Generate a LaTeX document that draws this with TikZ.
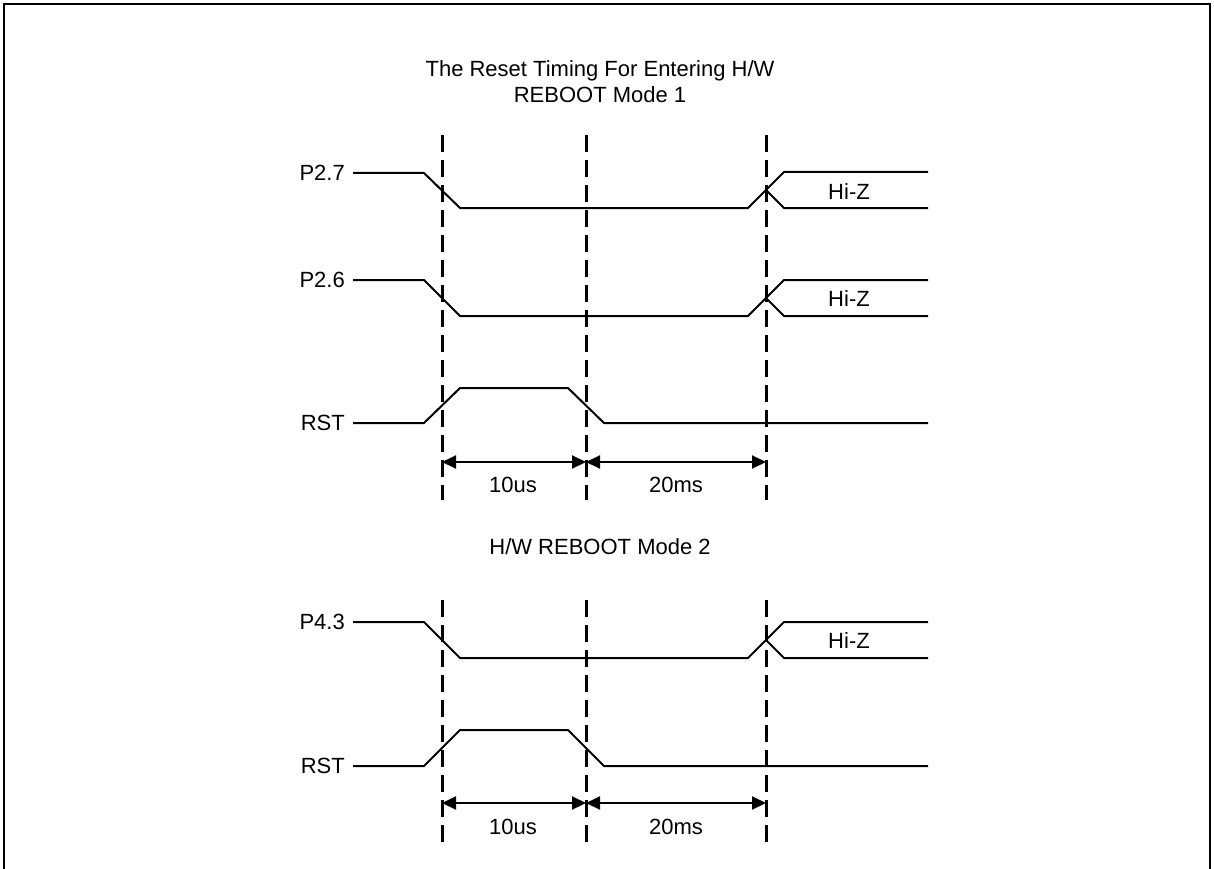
\documentclass[tikz,border=0pt]{standalone}
\usepackage{fontspec}
\setmainfont{Liberation Sans}
\usetikzlibrary{arrows.meta}

\begin{document}
\begin{tikzpicture}[x=1pt,y=1pt,yscale=-1,xscale=1,
  wave/.style={line width=2pt},
  marker/.style={line width=3pt,dash pattern=on 17pt off 8pt},
  span/.style={line width=2pt,{Triangle[length=14pt,width=13pt]}-{Triangle[length=14pt,width=13pt]}},
  lbl/.style={inner sep=0pt,font=\fontsize{22}{26}\selectfont}]
\useasboundingbox (0,0) rectangle (1214,869);
%Frame
\draw [line width=2pt] (4,869) -- (4,4) -- (1210,4) -- (1210,869) ;
% Text Node
\node [lbl,align=center] (title1) at (600,82) {The Reset Timing For Entering H/W\\REBOOT Mode 1};
% Text Node
\node [lbl] (title2) at (600,547) {H/W REBOOT Mode 2};
%Signal names
\node [lbl,anchor=east] (p27) at (345,173) {P2.7};
\node [lbl,anchor=east] (p26) at (345,280) {P2.6};
\node [lbl,anchor=east] (rsta) at (345,423) {RST};
\node [lbl,anchor=east] (p43) at (345,622) {P4.3};
\node [lbl,anchor=east] (rstb) at (345,766) {RST};
%Waveform P2.7
\draw [wave] (353,173) -- (424,173) -- (460,208) -- (748,208) -- (784,172) -- (928,172) ;
\draw [wave] (766,190) -- (784,208) -- (928,208) ;
\node [lbl] (hiza) at (849,192) {Hi-Z};
%Waveform P2.6
\draw [wave] (353,280) -- (424,280) -- (460,316) -- (748,316) -- (784,280) -- (928,280) ;
\draw [wave] (766,298) -- (784,316) -- (928,316) ;
\node [lbl] (hizb) at (849,299) {Hi-Z};
%Waveform RST (mode 1)
\draw [wave] (353,423) -- (424,423) -- (460,388) -- (568,388) -- (604,423) -- (928,423) ;
%Waveform P4.3
\draw [wave] (353,622) -- (424,622) -- (460,658) -- (748,658) -- (784,622) -- (928,622) ;
\draw [wave] (766,640) -- (784,658) -- (928,658) ;
\node [lbl] (hizc) at (849,641) {Hi-Z};
%Waveform RST (mode 2)
\draw [wave] (353,766) -- (424,766) -- (460,730) -- (568,730) -- (604,766) -- (928,766) ;
%Dashed markers (mode 1)
\draw [marker] (442,135) -- (442,500) ;
\draw [marker] (586,135) -- (586,500) ;
\draw [marker] (766,135) -- (766,500) ;
%Dashed markers (mode 2)
\draw [marker] (442,600) -- (442,848) ;
\draw [marker] (586,600) -- (586,848) ;
\draw [marker] (766,600) -- (766,848) ;
%Time spans
\coordinate (ta1) at (442,462) ;
\coordinate (ta2) at (586,462) ;
\coordinate (ta3) at (766,462) ;
\coordinate (tb1) at (442,803) ;
\coordinate (tb2) at (586,803) ;
\coordinate (tb3) at (766,803) ;
\draw [span] (ta1) -- (ta2) ;
\draw [span] (ta2) -- (ta3) ;
\draw [span] (tb1) -- (tb2) ;
\draw [span] (tb2) -- (tb3) ;
\node [lbl] (usa) at (513,485) {10us};
\node [lbl] (msa) at (676,485) {20ms};
\node [lbl] (usb) at (513,827) {10us};
\node [lbl] (msb) at (676,827) {20ms};
\end{tikzpicture}
\end{document}
